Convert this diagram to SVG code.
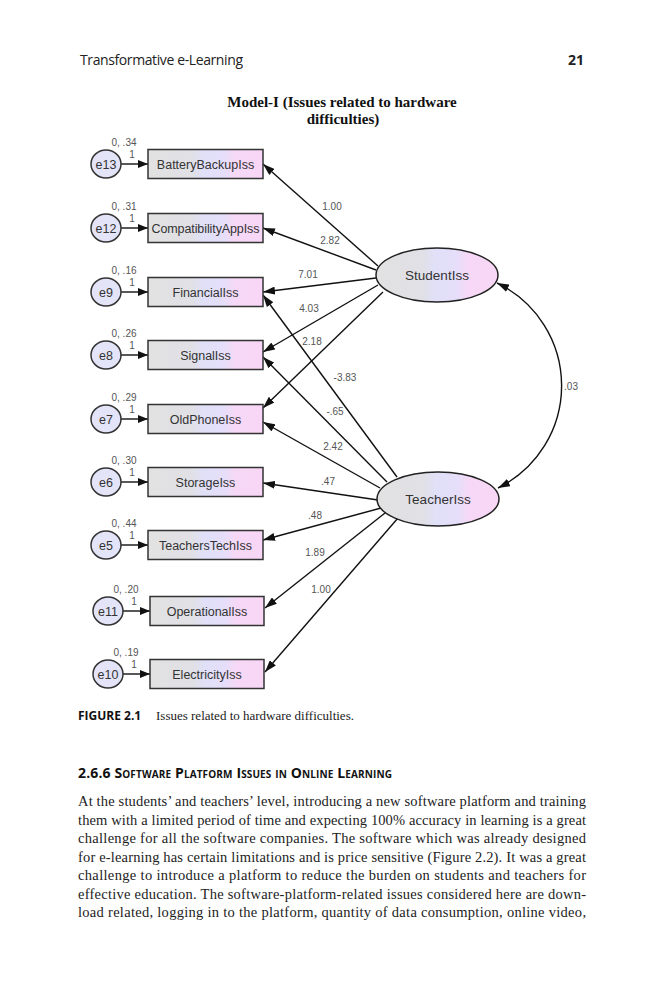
<svg xmlns="http://www.w3.org/2000/svg" width="666" height="1000" viewBox="0 0 666 1000">
<defs>
<linearGradient id="g" x1="0" y1="0" x2="1" y2="0">
<stop offset="0" stop-color="#e2e2e2"/>
<stop offset="0.38" stop-color="#e0e0e6"/>
<stop offset="0.48" stop-color="#e0e0f8"/>
<stop offset="0.66" stop-color="#e6defa"/>
<stop offset="0.76" stop-color="#f6d8f6"/>
<stop offset="1" stop-color="#f8d6f6"/>
</linearGradient>
<marker id="ah" viewBox="0 0 12 8" refX="12" refY="4" markerWidth="12" markerHeight="8" markerUnits="userSpaceOnUse" orient="auto-start-reverse">
<path d="M0,0 L12,4 L0,8 Z" fill="#111"/>
</marker>
<marker id="ahs" viewBox="0 0 10 8" refX="10" refY="4" markerWidth="10" markerHeight="8" markerUnits="userSpaceOnUse" orient="auto">
<path d="M0,0 L10,4 L0,8 Z" fill="#111"/>
</marker>
<style>
.box{fill:url(#g);stroke:#333;stroke-width:1.5}
.err{fill:#e4e4f8;stroke:#333;stroke-width:1.5}
.lat{fill:url(#g);stroke:#222;stroke-width:1.5}
.bt{font-family:"Liberation Sans",Arial,sans-serif;font-size:12.5px;fill:#333;text-anchor:middle}
.et{font-family:"Liberation Sans",Arial,sans-serif;font-size:12.5px;fill:#333;text-anchor:middle}
.lt{font-family:"Liberation Sans",Arial,sans-serif;font-size:13.5px;fill:#333;text-anchor:middle}
.num{font-family:"Liberation Sans",Arial,sans-serif;font-size:10px;fill:#555;text-anchor:middle}
.edge{stroke:#111;stroke-width:1.4;fill:none;marker-end:url(#ah)}
.small{stroke:#111;stroke-width:1.4;fill:none;marker-end:url(#ahs)}
.cov{stroke:#111;stroke-width:1.4;fill:none;marker-start:url(#ah);marker-end:url(#ah)}
.p{font-family:"Liberation Serif","Times New Roman",serif;font-size:14.5px;fill:#222}
</style>
</defs>
<rect width="666" height="1000" fill="#fff"/>

<text x="80" y="65" font-family="'Open Sans','Liberation Sans',sans-serif" font-size="14" fill="#222" textLength="163">Transformative e-Learning</text>
<text x="584" y="65" font-family="'Open Sans','Liberation Sans',sans-serif" font-size="14" font-weight="bold" fill="#222" text-anchor="end">21</text>

<text x="342" y="107" font-family="'Liberation Serif','Times New Roman',serif" font-size="15" font-weight="bold" fill="#111" text-anchor="middle">Model-I (Issues related to hardware</text>
<text x="343" y="124" font-family="'Liberation Serif','Times New Roman',serif" font-size="15" font-weight="bold" fill="#111" text-anchor="middle">difficulties)</text>

<g id="connectors">
<path class="edge" d="M378,266 L263,164"/>
<path class="edge" d="M376,270 L263,228"/>
<path class="edge" d="M376,278 L263,292"/>
<path class="edge" d="M378,285 L263,352"/>
<path class="edge" d="M383,292 L263,408"/>
<path class="edge" d="M397,477 L263,295"/>
<path class="edge" d="M387,482 L263,357"/>
<path class="edge" d="M380,488 L263,422"/>
<path class="edge" d="M378,500 L263,483"/>
<path class="edge" d="M381,508 L263,540"/>
<path class="edge" d="M385,513 L265,608"/>
<path class="edge" d="M398,518 L265,672"/>
<path class="cov" d="M497,283 A114,114 0 0 1 498,488"/>
<path class="small" d="M121,164 L148,164"/>
<path class="small" d="M121,228 L148,228"/>
<path class="small" d="M121,292 L148,292"/>
<path class="small" d="M121,355 L148,355"/>
<path class="small" d="M121,419 L148,419"/>
<path class="small" d="M121,482 L148,482"/>
<path class="small" d="M121,545 L148,545"/>
<path class="small" d="M123,611 L150,611"/>
<path class="small" d="M123,674 L150,674"/>
<text class="num" x="332" y="210">1.00</text>
<text class="num" x="330" y="244">2.82</text>
<text class="num" x="308" y="278">7.01</text>
<text class="num" x="309" y="312">4.03</text>
<text class="num" x="312" y="345">2.18</text>
<text class="num" x="345" y="381">-3.83</text>
<text class="num" x="335" y="415">-.65</text>
<text class="num" x="333" y="450">2.42</text>
<text class="num" x="328" y="485">.47</text>
<text class="num" x="315" y="519">.48</text>
<text class="num" x="315" y="556">1.89</text>
<text class="num" x="321" y="593">1.00</text>
<text class="num" x="571" y="390">.03</text>
</g>

<g id="StudentIss"><ellipse class="lat" cx="437" cy="275" rx="61" ry="27"/><text class="lt" x="437" y="280">StudentIss</text></g>
<g id="TeacherIss"><ellipse class="lat" cx="438" cy="499" rx="61" ry="27"/><text class="lt" x="438" y="504">TeacherIss</text></g>

<g id="BatteryBackupIss"><rect class="box" x="148" y="149.5" width="115" height="29"/><text class="bt" x="205.5" y="168.5">BatteryBackupIss</text></g>
<g id="e13"><ellipse class="err" cx="106" cy="164" rx="15" ry="14"/><text class="et" x="106" y="168.5">e13</text><text class="num" x="124" y="146">0, .34</text><text class="num" x="132" y="158">1</text></g>

<g id="CompatibilityAppIss"><rect class="box" x="148" y="213.5" width="115" height="29"/><text class="bt" x="205.5" y="232.5" textLength="108">CompatibilityAppIss</text></g>
<g id="e12"><ellipse class="err" cx="106" cy="228" rx="15" ry="14"/><text class="et" x="106" y="232.5">e12</text><text class="num" x="124" y="210">0, .31</text><text class="num" x="132" y="222">1</text></g>

<g id="FinancialIss"><rect class="box" x="148" y="277.5" width="115" height="29"/><text class="bt" x="205.5" y="296.5">FinancialIss</text></g>
<g id="e9"><ellipse class="err" cx="106" cy="292" rx="15" ry="14"/><text class="et" x="106" y="296.5">e9</text><text class="num" x="124" y="274">0, .16</text><text class="num" x="132" y="286">1</text></g>

<g id="SignalIss"><rect class="box" x="148" y="340.5" width="115" height="29"/><text class="bt" x="205.5" y="359.5">SignalIss</text></g>
<g id="e8"><ellipse class="err" cx="106" cy="355" rx="15" ry="14"/><text class="et" x="106" y="359.5">e8</text><text class="num" x="124" y="337">0, .26</text><text class="num" x="132" y="349">1</text></g>

<g id="OldPhoneIss"><rect class="box" x="148" y="404.5" width="115" height="29"/><text class="bt" x="205.5" y="423.5">OldPhoneIss</text></g>
<g id="e7"><ellipse class="err" cx="106" cy="419" rx="15" ry="14"/><text class="et" x="106" y="423.5">e7</text><text class="num" x="124" y="401">0, .29</text><text class="num" x="132" y="413">1</text></g>

<g id="StorageIss"><rect class="box" x="148" y="467.5" width="115" height="29"/><text class="bt" x="205.5" y="486.5">StorageIss</text></g>
<g id="e6"><ellipse class="err" cx="106" cy="482" rx="15" ry="14"/><text class="et" x="106" y="486.5">e6</text><text class="num" x="124" y="464">0, .30</text><text class="num" x="132" y="476">1</text></g>

<g id="TeachersTechIss"><rect class="box" x="148" y="530.5" width="115" height="29"/><text class="bt" x="205.5" y="549.5">TeachersTechIss</text></g>
<g id="e5"><ellipse class="err" cx="106" cy="545" rx="15" ry="14"/><text class="et" x="106" y="549.5">e5</text><text class="num" x="124" y="527">0, .44</text><text class="num" x="132" y="539">1</text></g>

<g id="OperationalIss"><rect class="box" x="150" y="596.5" width="114" height="29"/><text class="bt" x="207" y="615.5">OperationalIss</text></g>
<g id="e11"><ellipse class="err" cx="108" cy="611" rx="15" ry="14"/><text class="et" x="108" y="615.5">e11</text><text class="num" x="126" y="593">0, .20</text><text class="num" x="134" y="605">1</text></g>

<g id="ElectricityIss"><rect class="box" x="150" y="659.5" width="114" height="29"/><text class="bt" x="207" y="678.5">ElectricityIss</text></g>
<g id="e10"><ellipse class="err" cx="108" cy="674" rx="15" ry="14"/><text class="et" x="108" y="678.5">e10</text><text class="num" x="126" y="656">0, .19</text><text class="num" x="134" y="668">1</text></g>

<text x="78" y="720" font-family="'Open Sans','Liberation Sans',sans-serif" font-size="12" font-weight="bold" fill="#111">FIGURE 2.1</text>
<text x="156" y="720" font-family="'Liberation Serif','Times New Roman',serif" font-size="13" fill="#222">Issues related to hardware difficulties.</text>

<text x="78" y="778" font-family="'Open Sans','Liberation Sans',sans-serif" font-size="14" font-weight="bold" fill="#111" font-variant="small-caps" textLength="314">2.6.6  Software Platform Issues in Online Learning</text>

<text class="p" x="78" y="806" textLength="508">At the students’ and teachers’ level, introducing a new software platform and training</text>
<text class="p" x="78" y="824.5" textLength="508">them with a limited period of time and expecting 100% accuracy in learning is a great</text>
<text class="p" x="78" y="843" textLength="508">challenge for all the software companies. The software which was already designed</text>
<text class="p" x="78" y="861.5" textLength="508">for e-learning has certain limitations and is price sensitive (Figure 2.2). It was a great</text>
<text class="p" x="78" y="880" textLength="508">challenge to introduce a platform to reduce the burden on students and teachers for</text>
<text class="p" x="78" y="898.5" textLength="508">effective education. The software-platform-related issues considered here are down-</text>
<text class="p" x="78" y="917" textLength="508">load related, logging in to the platform, quantity of data consumption, online video,</text>
</svg>
